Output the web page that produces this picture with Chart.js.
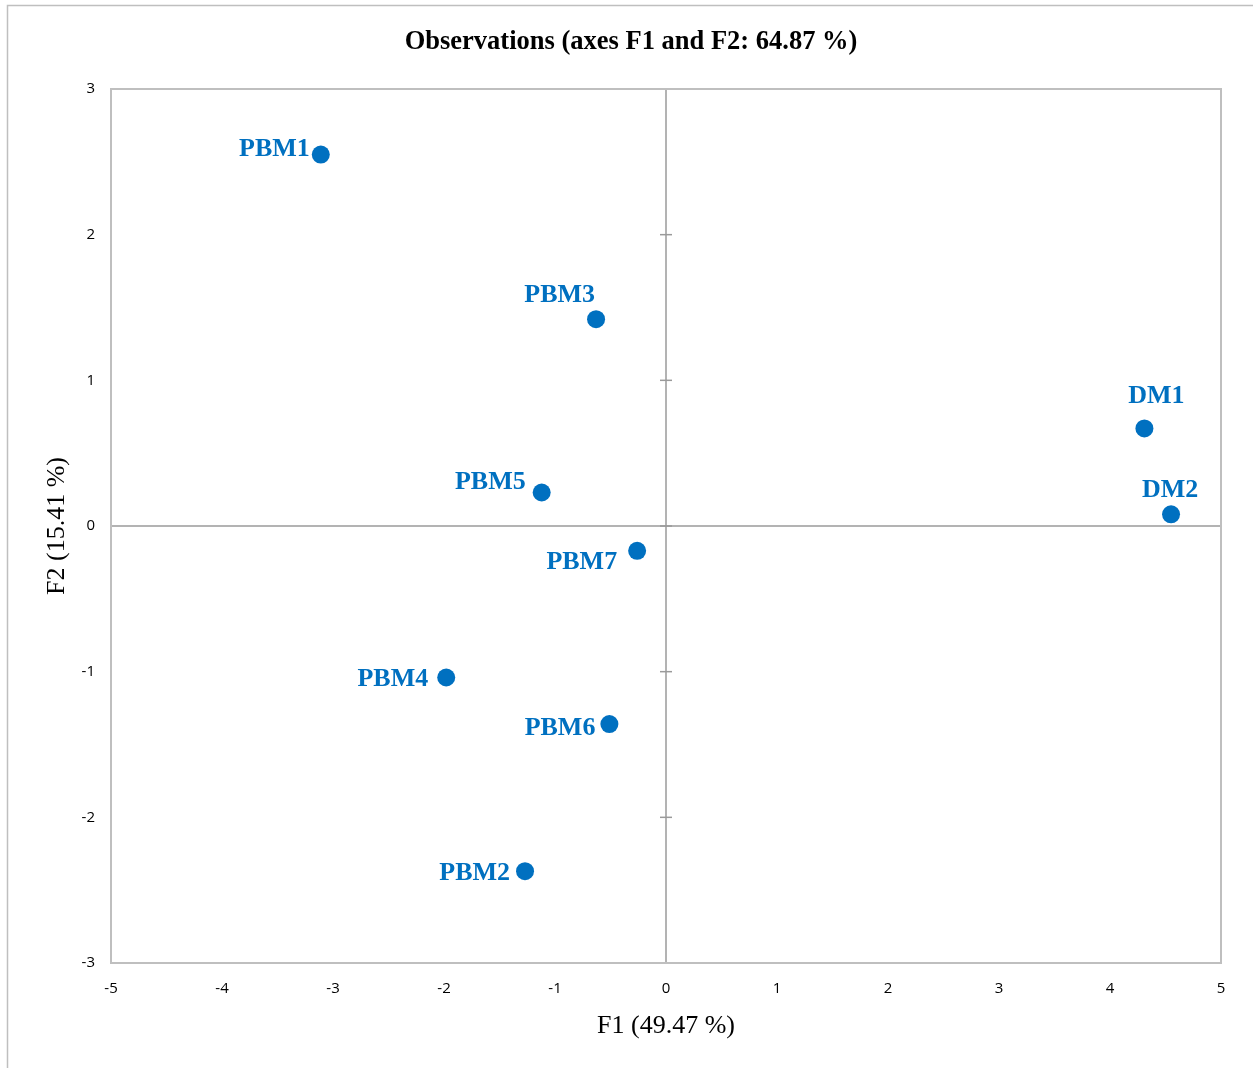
<!DOCTYPE html>
<html>
<head>
<meta charset="utf-8">
<title>Observations (axes F1 and F2: 64.87 %)</title>
<script src="https://cdn.jsdelivr.net/npm/chart.js@4/dist/chart.umd.min.js"></script>
<style>
html,body{margin:0;padding:0;background:#fff;}
#wrap{width:1253px;height:1068px;}
</style>
</head>
<body>
<div id="wrap"><canvas id="pcaChart" width="1253" height="1068"></canvas></div>
<script>

/* ================= DATA ================= */

const obsNames=["PBM1","PBM2","PBM3","PBM4","PBM5","PBM6","PBM7","DM1","DM2"];
const f1Scores=[-3.11,-1.27,-0.63,-1.98,-1.12,-0.51,-0.26,4.31,4.55];
const f2Scores=[2.55,-2.37,1.42,-1.04,0.23,-1.36,-0.17,0.67,0.08];

const xTicks=[-5,-4,-3,-2,-1,0,1,2,3,4,5];
const yTicks=[-3,-2,-1,0,1,2,3];

const chartTitle="Observations (axes F1 and F2: 64.87 %)";
const xTitle="F1 (49.47 %)";
const yTitle="F2 (15.41 %)";


/* ================= STYLE ================= */

const BLUE="#0070C0";
const FRAME="#BFBFBF";
const ZERO_LINE="#9A9A9A";
const SERIF="'Liberation Serif','Times New Roman',serif";
const SANS="'Open Sans','Liberation Sans',sans-serif";

// where each name sits next to its dot: [dx, dy, align]
const labelPlace=[
[-11,-5,"right"],
[-15,2,"right"],
[-1,-24,"right"],
[-18,2,"right"],
[-16,-10,"right"],
[-14,4,"right"],
[-20,12,"right"],
[12,-32,"center"],
[-1,-24,"center"]
];


/* ================= PLUGINS ================= */

const frameAndAxes={
id:"frameAndAxes",
beforeDraw(chart){
const ctx=chart.ctx;
ctx.save();

// outer frame, open on the right and bottom
ctx.strokeStyle=FRAME;
ctx.lineWidth=1.5;
ctx.beginPath();
ctx.moveTo(7.5,chart.height);
ctx.lineTo(7.5,5.5);
ctx.lineTo(chart.width,5.5);
ctx.stroke();

// chart title
ctx.font="bold 26.5px "+SERIF;
ctx.fillStyle="#000";
ctx.textAlign="center";
ctx.textBaseline="middle";
ctx.fillText(chartTitle,631,42);

ctx.restore();
},
beforeDatasetsDraw(chart){
const {ctx,chartArea:a,scales:{x,y}}=chart;
ctx.save();

// zero lines
const x0=x.getPixelForValue(0);
const y0=y.getPixelForValue(0);
ctx.strokeStyle=ZERO_LINE;
ctx.lineWidth=1.5;
ctx.beginPath();
ctx.moveTo(x0,a.top);
ctx.lineTo(x0,a.bottom);
ctx.moveTo(a.left,y0);
ctx.lineTo(a.right,y0);
ctx.stroke();

// cross ticks along the vertical zero line
yTicks.forEach(v=>{
const py=y.getPixelForValue(v);
ctx.beginPath();
ctx.moveTo(x0-6,py);
ctx.lineTo(x0+6,py);
ctx.stroke();
});

// plot border
ctx.strokeStyle=FRAME;
ctx.lineWidth=2;
ctx.strokeRect(a.left,a.top,a.right-a.left,a.bottom-a.top);

ctx.restore();
},
afterDatasetsDraw(chart){
const ctx=chart.ctx;
const meta=chart.getDatasetMeta(0);
ctx.save();
ctx.font="bold 26px "+SERIF;
ctx.fillStyle=BLUE;
ctx.textBaseline="middle";
meta.data.forEach((pt,i)=>{
const [dx,dy,align]=labelPlace[i];
ctx.textAlign=align;
ctx.fillText(obsNames[i],pt.x+dx,pt.y+dy);
});
ctx.restore();
}
};


/* ================= CHART ================= */

const points=f1Scores.map((v,i)=>({x:v,y:f2Scores[i]}));

new Chart(document.getElementById("pcaChart"),{
type:"scatter",
data:{
datasets:[{
label:"Observations",
data:points,
backgroundColor:BLUE,
borderWidth:0,
pointRadius:9,
pointHoverRadius:9
}]
},
options:{
responsive:false,
animation:false,
layout:{padding:{left:0,right:32,top:89,bottom:0}},
plugins:{
legend:{display:false},
tooltip:{enabled:false},
title:{display:false}
},
scales:{
x:{
type:"linear",
min:-5,
max:5,
afterBuildTicks(scale){scale.ticks=xTicks.map(v=>({value:v}));},
afterFit(scale){scale.height=105;},
grid:{display:false,drawTicks:false},
border:{display:false},
ticks:{color:"#000",font:{family:SANS,size:15},padding:17,maxRotation:0},
title:{
display:true,
text:xTitle,
color:"#000",
font:{family:SERIF,size:26,lineHeight:1.2},
padding:{top:0,bottom:26}
}
},
y:{
type:"linear",
min:-3,
max:3,
afterBuildTicks(scale){scale.ticks=yTicks.map(v=>({value:v}));},
afterFit(scale){scale.width=111;},
grid:{display:false,drawTicks:false},
border:{display:false},
ticks:{color:"#000",font:{family:SANS,size:15},padding:16},
title:{
display:true,
text:yTitle,
color:"#000",
font:{family:SERIF,size:26,lineHeight:1.2},
padding:{top:42,bottom:0}
}
}
}
},
plugins:[frameAndAxes]
});

</script>
</body>
</html>
